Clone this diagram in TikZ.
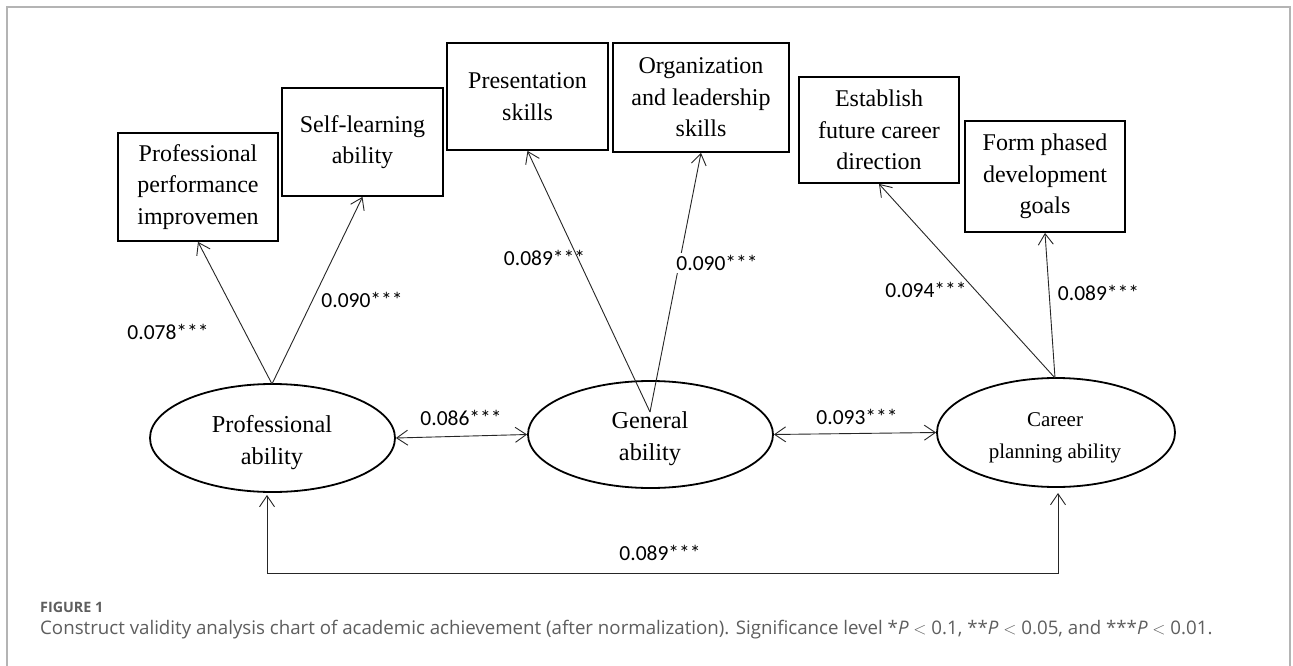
\documentclass[tikz,border=0pt]{standalone}
\usepackage{fontspec}
\setmainfont{Liberation Serif}
\newfontfamily\labfont{Carlito}
\newfontfamily\capfont{Open Sans}
\usetikzlibrary{arrows.meta,shapes.geometric}
\definecolor{framegray}{HTML}{B4B4B4}
\definecolor{capgray}{HTML}{5E5E5E}
\begin{document}
\begin{tikzpicture}[x=1pt,y=-1pt,
  box/.style={draw, line width=1.8pt, rectangle, inner sep=0pt, align=center,
    font=\fontsize{24}{31.5}\selectfont},
  oval/.style={draw, line width=1.8pt, ellipse, inner sep=0pt},
  ovaltext/.style={inner sep=0pt, align=center, font=\fontsize{24.3}{32}\selectfont},
  conn/.style={line width=0.9pt, draw=black!85,
    -{Straight Barb[length=11pt,width=15pt,line width=0.9pt]}},
  biconn/.style={line width=0.9pt, draw=black!85,
    {Straight Barb[length=11pt,width=15pt,line width=0.9pt]}-{Straight Barb[length=11pt,width=15pt,line width=0.9pt]}},
  lab/.style={inner sep=0pt, font=\labfont\fontsize{21.5}{24}\selectfont},
  whitelab/.style={lab, fill=white, inner sep=2pt}
]
\useasboundingbox (0,0) rectangle (1293,666);
\fill[white] (0,0) rectangle (1293,666);
\draw[framegray, line width=1.5pt] (7,666) -- (7,7) -- (1290,7) -- (1290,666);

% boxes
\node[box, minimum width=160pt, minimum height=108pt] (ppi) at (198,187) {Professional\\performance\\improvemen};
\node[box, minimum width=161pt, minimum height=108pt] (sla) at (362.5,142) {Self-learning\\ability};
\node[box, minimum width=161pt, minimum height=107pt] (prs) at (527.5,96.5) {Presentation\\skills};
\node[box, minimum width=176pt, minimum height=109pt] (org) at (701,97.5) {Organization\\and leadership\\skills};
\node[box, minimum width=160pt, minimum height=106pt] (est) at (879,130) {Establish\\future career\\direction};
\node[box, minimum width=160pt, minimum height=111pt] (frm) at (1045,176.5) {Form phased\\development\\goals};

% ellipses
\node[oval, minimum width=245pt, minimum height=108pt] (prof) at (272.5,438) {};
\node[oval, minimum width=245pt, minimum height=107pt] (gen) at (650.5,434.5) {};
\node[oval, minimum width=238pt, minimum height=109pt] (car) at (1056,432.5) {};
\node[ovaltext] (proft) at (272,443) {Professional\\ability};
\node[ovaltext] (gent) at (650,439) {General\\ability};
\node[ovaltext, font=\fontsize{21}{32}\selectfont] (cart) at (1055,438) {Career\\planning ability};

% meeting points
\coordinate (pa) at (272,384);
\coordinate (ga) at (650,412);
\coordinate (ca) at (1055,378);
\coordinate (pb) at (267,495);
\coordinate (bl) at (267,573);
\coordinate (br) at (1058,573);
\coordinate (cb) at (1058,493);

% labels (plain)
\node[lab] (l1) at (168,332) {0.078***};
\node[lab] (l2) at (362,300) {0.090***};
\node[lab] (l3) at (544.5,258) {0.089***};
\node[lab] (l5) at (926,290) {0.094***};
\node[lab] (l6) at (1098.5,293) {0.089***};
\node[lab] (l7) at (461,418) {0.086***};
\node[lab] (l8) at (857,417) {0.093***};
\node[lab] (l9) at (660,553) {0.089***};

% connectors
\draw[conn] (pa) -- (ppi.south);
\draw[conn] (pa) -- (sla.south);
\draw[conn] (ga) -- (prs.south);
\draw[conn] (ga) -- (org.south);
\draw[conn] (ca) -- (est.south);
\draw[conn] (ca) -- (frm.south);
\draw[biconn] (prof.east) -- (gen.west);
\draw[biconn] (gen.east) -- (car.west);
\draw[biconn] (pb) -- (bl) -- (br) -- (cb);

\node[whitelab] (l4) at (717,263) {0.090***};

% caption
\node[anchor=base west, inner sep=0pt, text=capgray, font=\capfont\bfseries\fontsize{14.3}{16}\selectfont] (fig) at (40,612) {FIGURE 1};
\node[anchor=base west, inner sep=0pt, text=capgray, font=\capfont\fontsize{18.7}{21}\selectfont] (cap) at (40,634) {Construct validity analysis chart of academic achievement (after normalization). Significance level *\textit{P} $<$ 0.1, **\textit{P} $<$ 0.05, and ***\textit{P} $<$ 0.01.};
\end{tikzpicture}
\end{document}
